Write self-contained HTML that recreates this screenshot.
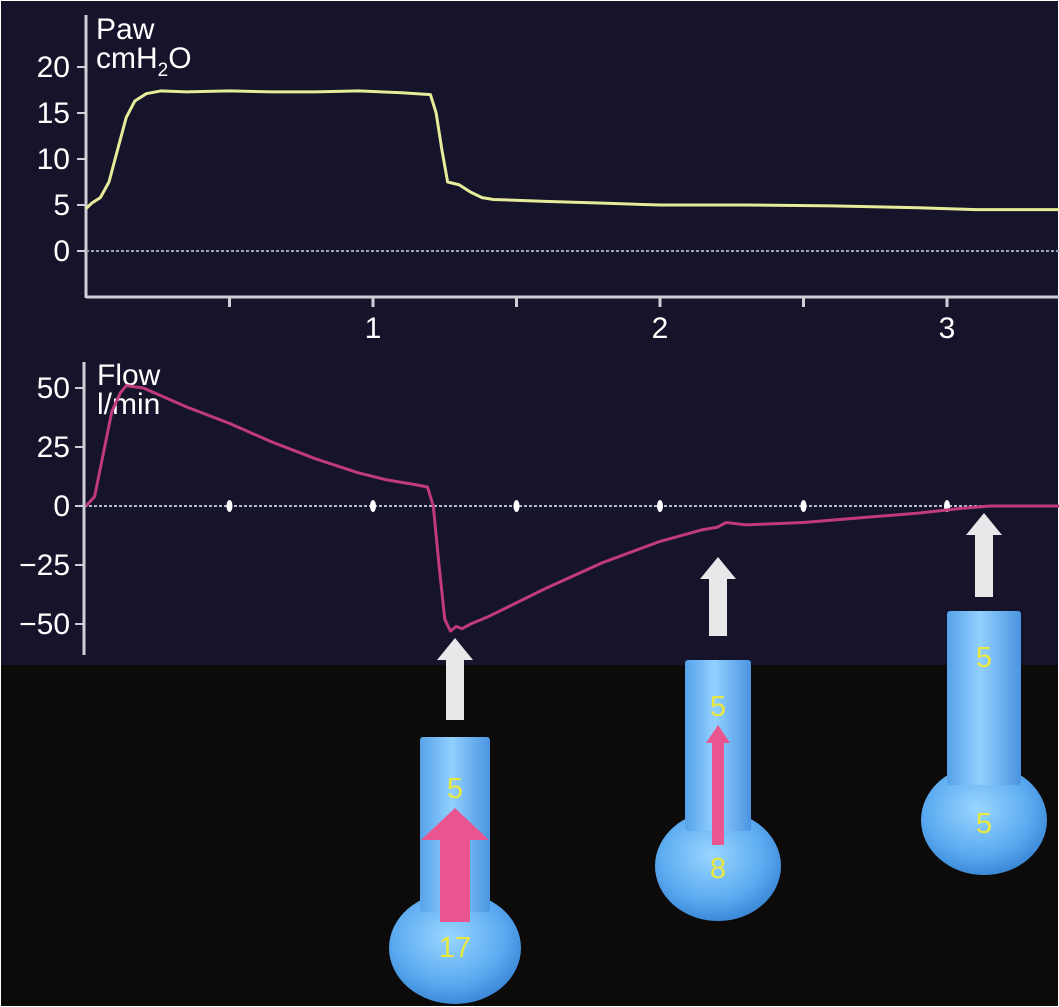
<!DOCTYPE html>
<html><head><meta charset="utf-8">
<style>
html,body{margin:0;padding:0;background:#fff;}
svg{display:block;font-family:"Liberation Sans",Arial,sans-serif;}
</style></head>
<body>
<svg id="chart" width="1059" height="1007" viewBox="0 0 1059 1007" xmlns="http://www.w3.org/2000/svg">
  <defs>
    <radialGradient id="bulbGrad" cx="45%" cy="40%" r="60%">
      <stop offset="0%" stop-color="#9ad6ff"/>
      <stop offset="70%" stop-color="#5aaaf0"/>
      <stop offset="100%" stop-color="#3d8ad8"/>
    </radialGradient>
    <linearGradient id="tubeGrad" x1="0" x2="1" y1="0" y2="0">
      <stop offset="0%" stop-color="#56a2ea"/>
      <stop offset="45%" stop-color="#92d0ff"/>
      <stop offset="100%" stop-color="#4a94e0"/>
    </linearGradient>
  </defs>
  <rect x="0" y="0" width="1059" height="1007" fill="#ffffff"/>
  <rect x="1" y="1" width="1057" height="665" fill="#15142a"/>
  <rect x="1" y="665" width="1057" height="341" fill="#0d0a0a"/>
  <g id="paw"></g>
  <g id="flow"></g>
  <g id="models"></g>
</svg>
<script>
// ---- data ----
const pawTime = [0,0.02,0.05,0.08,0.11,0.14,0.17,0.21,0.26,0.35,0.5,0.65,0.8,0.95,1.1,1.2,1.22,1.24,1.26,1.3,1.34,1.38,1.42,1.6,1.8,2.0,2.3,2.6,2.9,3.1,3.4];
const pawValues = [4.6,5.2,5.8,7.5,11,14.5,16.3,17.1,17.4,17.3,17.4,17.3,17.3,17.4,17.2,17.0,15,11,7.5,7.2,6.4,5.8,5.6,5.4,5.2,5.0,5.0,4.9,4.7,4.5,4.5];
const pawTicks = [0,5,10,15,20];
const flowTime = [0,0.03,0.06,0.09,0.12,0.14,0.2,0.35,0.5,0.65,0.8,0.95,1.05,1.15,1.19,1.21,1.23,1.25,1.27,1.29,1.31,1.34,1.4,1.5,1.6,1.8,2.0,2.15,2.2,2.23,2.3,2.5,2.7,2.9,3.05,3.15,3.4];
const flowValues = [0,4,22,40,48,51,50,42,35,27,20,14,11,9,8,0,-25,-48,-53,-51,-52,-50,-47,-41,-35,-24,-15,-10,-9,-7,-8,-7,-5,-3,-1,0,0];
const flowTicks = [-50,-25,0,25,50];
const timeTicks = [1,2,3];
const halfTicks = [0.5,1.5,2.5];
const flowDots = [0.5,1,1.5,2,2.5,3];
const modelPressureTop = ["5","5","5"];
const modelPressureBottom = ["17","8","5"];

// ---- scales ----
const X0 = 86, PXS = 287;
const xS = t => X0 + t*PXS;
const yPaw = v => 251 - v*9.2;
const yFlow = v => 506 - v*2.36;
const NS = "http://www.w3.org/2000/svg";
function mk(tag, attrs, parent, text){
  const e = document.createElementNS(NS, tag);
  for (const k in attrs) e.setAttribute(k, attrs[k]);
  if (text !== undefined) e.textContent = text;
  parent.appendChild(e);
  return e;
}
const axisCol = "#cfcfd8";
const FS = 30;

// ---- Paw chart ----
const paw = document.getElementById('paw');
let e;
e = mk('line',{x1:86,y1:15,x2:86,y2:298,stroke:axisCol,'stroke-width':3},paw);


e = mk('line',{x1:86,y1:297,x2:1059,y2:297,stroke:axisCol,'stroke-width':3},paw);


e = mk('line',{x1:86,y1:251,x2:1059,y2:251,stroke:"#a0a0b8",'stroke-width':2,'stroke-dasharray':'3,2'},paw);


pawTicks.forEach(v=>{
  const y = yPaw(v);
  let t = mk('line',{x1:77,y1:y,x2:86,y2:y,stroke:axisCol,'stroke-width':2},paw);
  
  
  let l = mk('text',{x:70,y:y+10,'text-anchor':'end','font-size':FS,fill:'#ffffff'},paw,String(v));
  
  
});
timeTicks.forEach(v=>{
  const x = xS(v);
  let t = mk('line',{x1:x,y1:297,x2:x,y2:307,stroke:axisCol,'stroke-width':3},paw);
  
  
  let l = mk('text',{x:x,y:338,'text-anchor':'middle','font-size':FS,fill:'#ffffff'},paw,String(v));
  
  
});
halfTicks.forEach(v=>{
  const x = xS(v);
  let t = mk('line',{x1:x,y1:297,x2:x,y2:307,stroke:axisCol,'stroke-width':3},paw);
  
  
});
e = mk('text',{x:96,y:39,'font-size':FS,fill:'#ffffff'},paw,'Paw');


e = mk('text',{x:96,y:68,'font-size':FS,fill:'#ffffff'},paw);


e.innerHTML = 'cmH<tspan font-size="19" dy="8">2</tspan><tspan dy="-8">O</tspan>';
e = mk('polyline',{points:pawTime.map((t,i)=>xS(t)+','+yPaw(pawValues[i])).join(' '),fill:'none',stroke:'#e6ec9a','stroke-width':3,'stroke-linejoin':'round'},paw);



// ---- Flow chart ----
const flow = document.getElementById('flow');
e = mk('line',{x1:84,y1:362,x2:84,y2:655,stroke:axisCol,'stroke-width':3},flow);


e = mk('line',{x1:84,y1:506,x2:1059,y2:506,stroke:"#b8b8cc",'stroke-width':2,'stroke-dasharray':'3,2'},flow);


flowDots.forEach(v=>{
  let d = mk('ellipse',{cx:xS(v),cy:506,rx:3,ry:6,fill:'#ffffff'},flow);
  
  
});
flowTicks.forEach(v=>{
  const y = yFlow(v);
  let t = mk('line',{x1:75,y1:y,x2:84,y2:y,stroke:axisCol,'stroke-width':2},flow);
  
  
  let l = mk('text',{x:70,y:y+10,'text-anchor':'end','font-size':FS,fill:'#ffffff'},flow,v<0?'\u2212'+Math.abs(v):String(v));
  
  
});
e = mk('text',{x:97,y:385,'font-size':FS,fill:'#ffffff'},flow,'Flow');


e = mk('text',{x:97,y:414,'font-size':FS,fill:'#ffffff'},flow,'l/min');


e = mk('polyline',{points:flowTime.map((t,i)=>xS(t)+','+yFlow(flowValues[i])).join(' '),fill:'none',stroke:'#c03a7c','stroke-width':3,'stroke-linejoin':'round'},flow);



// ---- lung models ----
const models = document.getElementById('models');
const M = [
  {cx:455, tubeTop:737, tubeW:70, bulbCy:948, rx:66, ry:56, arrowTip:638, arrowBot:720, t1y:798, t2y:957, pink:{x:455,w:30,top:808,bot:922,hw:68,hh:32}},
  {cx:718, tubeTop:660, tubeW:66, bulbCy:866, rx:63, ry:55, arrowTip:557, arrowBot:636, t1y:716, t2y:878, pink:{x:718,w:12,top:725,bot:845,hw:24,hh:18}},
  {cx:984, tubeTop:611, tubeW:74, bulbCy:820, rx:63, ry:55, arrowTip:513, arrowBot:597, t1y:667, t2y:833, pink:null}
];
M.forEach((m,i)=>{
  let a = mk('polygon',{points:[
    [m.cx,m.arrowTip],[m.cx+18,m.arrowTip+22],[m.cx+9,m.arrowTip+22],[m.cx+9,m.arrowBot],
    [m.cx-9,m.arrowBot],[m.cx-9,m.arrowTip+22],[m.cx-18,m.arrowTip+22]].map(p=>p.join(',')).join(' '),fill:'#e8e8ea'},models);
  
  
  let b = mk('ellipse',{cx:m.cx,cy:m.bulbCy,rx:m.rx,ry:m.ry,fill:'url(#bulbGrad)'},models);
  
  
  let t = mk('rect',{x:m.cx-m.tubeW/2,y:m.tubeTop,width:m.tubeW,height:m.bulbCy-m.tubeTop-m.ry+20,rx:3,fill:'url(#tubeGrad)'},models);
  
  
  if (m.pink){
    const p = m.pink;
    let pa = mk('polygon',{points:[
      [p.x,p.top],[p.x+p.hw/2,p.top+p.hh],[p.x+p.w/2,p.top+p.hh],[p.x+p.w/2,p.bot],
      [p.x-p.w/2,p.bot],[p.x-p.w/2,p.top+p.hh],[p.x-p.hw/2,p.top+p.hh]].map(q=>q.join(',')).join(' '),fill:'#e8558f'},models);
    
    
  }
  let l1 = mk('text',{x:m.cx,y:m.t1y,'text-anchor':'middle','font-size':29,fill:'#e8e840'},models,modelPressureTop[i]);
  
  
  let l2 = mk('text',{x:m.cx,y:m.t2y,'text-anchor':'middle','font-size':29,fill:'#e8e840'},models,modelPressureBottom[i]);
  
  
});
</script>
</body></html>
